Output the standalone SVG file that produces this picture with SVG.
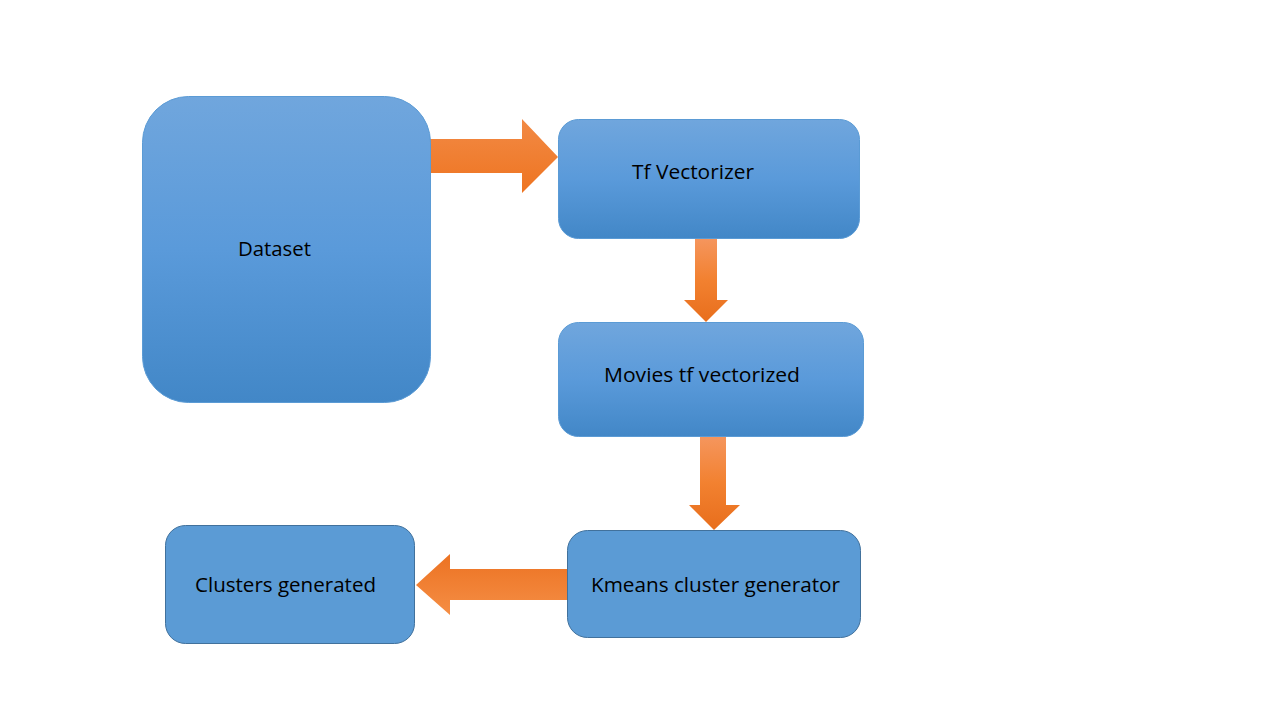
<svg xmlns="http://www.w3.org/2000/svg" width="1280" height="720" viewBox="0 0 1280 720">
<defs>
<linearGradient id="gBox" x1="0" y1="0" x2="0" y2="1">
<stop offset="0" stop-color="#70A6DD"/>
<stop offset="0.5" stop-color="#5A9ADA"/>
<stop offset="1" stop-color="#4287C7"/>
</linearGradient>
<linearGradient id="gV" x1="0" y1="0" x2="0" y2="1">
<stop offset="0" stop-color="#F5965E"/>
<stop offset="0.5" stop-color="#F28130"/>
<stop offset="1" stop-color="#E86E1C"/>
</linearGradient>
<linearGradient id="gH" x1="0" y1="0" x2="0" y2="1">
<stop offset="0" stop-color="#F28A45"/>
<stop offset="1" stop-color="#EE7420"/>
</linearGradient>
<linearGradient id="gL" x1="0" y1="0" x2="0" y2="1">
<stop offset="0" stop-color="#EC7222"/>
<stop offset="1" stop-color="#F58E45"/>
</linearGradient>
</defs>
<style>
.grad{fill:url(#gBox);stroke:#5B9BD5;stroke-width:1}
.solid{fill:#5B9BD5;stroke:#41719C;stroke-width:1}
.lbl{font-family:"Open Sans","Liberation Sans",Arial,sans-serif;font-size:20px;fill:#000}
</style>
<rect width="1280" height="720" fill="#FFFFFF"/>
<g id="connectors">
<polygon fill="url(#gH)" points="430,139 522,139 522,119 558,157 522,193 522,173 430,173"/>
<polygon fill="url(#gV)" points="695,238 717,238 717,300 728,300 706,322 684,300 695,300"/>
<polygon fill="url(#gV)" points="700,436 726,436 726,505 740,505 714,530 689,505 700,505"/>
<polygon fill="url(#gL)" points="567,569 450,569 450,554 416,585 450,615 450,600 567,600"/>
</g>
<g id="dataset">
<rect class="grad" x="142.5" y="96.5" width="288" height="306" rx="46"/>
<text class="lbl" x="238" y="256" textLength="73" lengthAdjust="spacingAndGlyphs">Dataset</text>
</g>
<g id="tf-vectorizer">
<rect class="grad" x="558.5" y="119.5" width="301" height="119" rx="20"/>
<text class="lbl" x="632" y="179" textLength="122" lengthAdjust="spacingAndGlyphs">Tf Vectorizer</text>
</g>
<g id="movies-tf-vectorized">
<rect class="grad" x="558.5" y="322.5" width="305" height="114" rx="20"/>
<text class="lbl" x="604" y="382" textLength="196" lengthAdjust="spacingAndGlyphs">Movies tf vectorized</text>
</g>
<g id="kmeans">
<rect class="solid" x="567.5" y="530.5" width="293" height="107" rx="20"/>
<text class="lbl" x="591" y="592" textLength="249" lengthAdjust="spacingAndGlyphs">Kmeans cluster generator</text>
</g>
<g id="clusters">
<rect class="solid" x="165.5" y="525.5" width="249" height="118" rx="20"/>
<text class="lbl" x="195" y="592" textLength="181" lengthAdjust="spacingAndGlyphs">Clusters generated</text>
</g>
</svg>
